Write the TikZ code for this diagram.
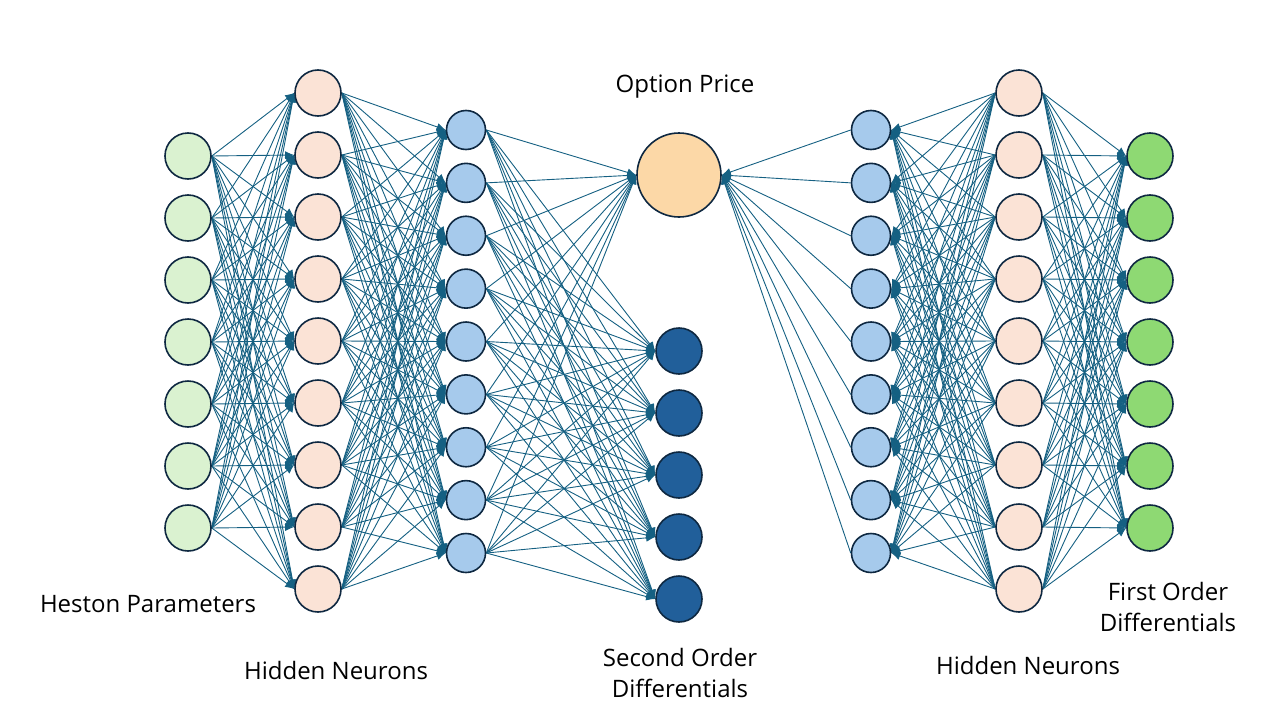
\documentclass[tikz,border=0pt]{standalone}
\usepackage{fontspec}
\setmainfont{Open Sans}
\usetikzlibrary{arrows.meta}
\pgfdeclarelayer{background}
\pgfsetlayers{background,main}
\definecolor{linkc}{HTML}{156082}
\definecolor{edgec}{HTML}{0E2841}
\definecolor{inpc}{HTML}{DAF2D0}
\definecolor{hidc}{HTML}{FBE3D6}
\definecolor{hbluec}{HTML}{A6CAEC}
\definecolor{optc}{HTML}{FCD8A7}
\definecolor{dbluec}{HTML}{215F9A}
\definecolor{grnc}{HTML}{8ED973}
\tikzset{
  neuron/.style={circle, draw=edgec, line width=1.6pt, inner sep=0pt, minimum size=46pt},
  smallneuron/.style={neuron, minimum size=39pt},
  bigneuron/.style={neuron, minimum size=84pt},
  link/.style={draw=linkc, line width=0.9pt, -{Latex[length=9pt,width=8pt]}},
  lbl/.style={font=\fontsize{24}{31.5}\selectfont, align=center, text=black}
}
\begin{document}
\begin{tikzpicture}[x=1pt,y=-1pt]
\useasboundingbox (0,0) rectangle (1280,720);
% left network
\foreach \i in {1,...,7} \node[neuron, fill=inpc] (a\i) at (188,{156+62*(\i-1)}) {};
\foreach \i in {1,...,9} \node[neuron, fill=hidc] (b\i) at (318,{93+62*(\i-1)}) {};
\foreach \i in {1,...,9} \node[smallneuron, fill=hbluec] (c\i) at (466,{130+52.875*(\i-1)}) {};
\node[bigneuron, fill=optc] (op) at (679,175) {};
\foreach \i in {1,...,5} \node[neuron, fill=dbluec] (d\i) at (679,{351+62*(\i-1)}) {};
% right network
\foreach \i in {1,...,9} \node[smallneuron, fill=hbluec] (e\i) at (871,{130+52.875*(\i-1)}) {};
\foreach \i in {1,...,9} \node[neuron, fill=hidc] (f\i) at (1019,{93+62*(\i-1)}) {};
\foreach \i in {1,...,7} \node[neuron, fill=grnc] (g\i) at (1150,{156+62*(\i-1)}) {};
\begin{pgfonlayer}{background}
\foreach \i in {1,...,7} \foreach \j in {1,...,9} \draw[link] (a\i.east) -- (b\j.west);
\foreach \i in {1,...,9} \foreach \j in {1,...,9} \draw[link] (b\i.east) -- (c\j.west);
\foreach \i in {1,...,9} \draw[link] (c\i.east) -- (op.west);
\foreach \i in {1,...,9} \foreach \j in {1,...,5} \draw[link] (c\i.east) -- (d\j.west);
\foreach \i in {1,...,9} \draw[link] (e\i.west) -- (op.east);
\foreach \i in {1,...,9} \foreach \j in {1,...,9} \draw[link] (f\i.west) -- (e\j.east);
\foreach \i in {1,...,9} \foreach \j in {1,...,7} \draw[link] (f\i.east) -- (g\j.west);
\end{pgfonlayer}
% labels
\node[lbl] (t1) at (685,87) {Option Price};
\node[lbl] (t2) at (148,604) {Heston Parameters};
\node[lbl] (t3) at (336,670) {Hidden Neurons};
\node[lbl] (t4) at (680,673) {Second Order\\Differentials};
\node[lbl] (t5) at (1028,665) {Hidden Neurons};
\node[lbl] (t6) at (1168,607) {First Order\\Differentials};
\end{tikzpicture}
\end{document}
